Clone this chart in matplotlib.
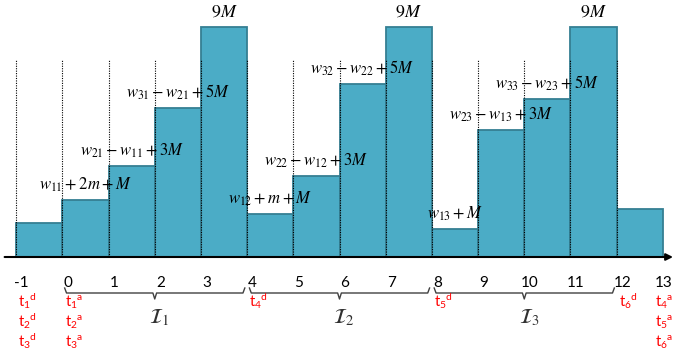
import matplotlib
matplotlib.use("Agg")
import matplotlib.pyplot as plt

# slots -1 .. 12, heights (pixel-ish units)
slots = list(range(-1, 13))
heights = [34, 57, 91, 149, 230, 43, 81, 173, 230, 28, 127, 158, 230, 48]
bar_labels = [
    "",
    r"$w_{11}+2m+M$",
    r"$w_{21}-w_{11}+3M$",
    r"$w_{31}-w_{21}+5M$",
    r"$9M$",
    r"$w_{12}+m+M$",
    r"$w_{22}-w_{12}+3M$",
    r"$w_{32}-w_{22}+5M$",
    r"$9M$",
    r"$w_{13}+M$",
    r"$w_{23}-w_{13}+3M$",
    r"$w_{33}-w_{23}+5M$",
    r"$9M$",
    "",
]
tick_values = list(range(-1, 14))
intervals = [(0, 4), (4, 8), (8, 12)]
interval_names = [r"$\mathcal{I}_1$", r"$\mathcal{I}_2$", r"$\mathcal{I}_3$"]
event_x = [-1, 0, 4, 8, 12, 13]
event_text = [
    [("1", "d"), ("2", "d"), ("3", "d")],
    [("1", "a"), ("2", "a"), ("3", "a")],
    [("4", "d")],
    [("5", "d")],
    [("6", "d")],
    [("4", "a"), ("5", "a"), ("6", "a")],
]

SANS = ["Lato", "DejaVu Sans"]
FILL = "#4BACC6"
EDGE = "#357F93"

fig = plt.figure(figsize=(6.73, 3.6), dpi=100)
ax = fig.add_axes([0, 0, 1, 1])
ax.set_xlim(-1.35, 13.22)
ax.set_ylim(-103, 257)
ax.axis("off")

ax.bar(slots, heights, width=1.0, align="edge", color=FILL,
       edgecolor=EDGE, linewidth=1.3, zorder=2)

# dotted guides at the slot boundaries
for s in slots:
    ax.plot([s, s], [0, 197], color="black", linestyle=(0, (1, 1.2)),
            linewidth=0.8, zorder=3)

# formulas above each bar
for s, h, lab in zip(slots, heights, bar_labels):
    if lab:
        size = 13 if lab == r"$9M$" else 12
        ax.text(s + 0.5, h + 10, lab, ha="center", va="baseline",
                fontsize=size, math_fontfamily="stix", zorder=4)

# time axis with arrow
ax.annotate("", xy=(13.22, 0), xytext=(-1.25, 0),
            arrowprops=dict(arrowstyle="-|>", color="black", lw=1.5,
                            mutation_scale=10, shrinkA=0, shrinkB=0),
            zorder=5)

# tick numbers
for v in tick_values:
    if v == tick_values[-1]:
        ax.text(13.22, -30, str(v), ha="right", va="baseline",
                fontsize=11, family=SANS)
    else:
        ax.text(v + 0.12, -30, str(v), ha="center", va="baseline",
                fontsize=11, family=SANS)

# curly braces for the intervals
y0 = -36
for (a, b), name in zip(intervals, interval_names):
    lo, hi, mid = a + 0.05, b - 0.05, (a + b) / 2
    xs = [lo, lo + 0.04, mid - 0.04, mid, mid + 0.04, hi - 0.04, hi]
    ys = [y0 + 5, y0, y0, y0 - 6, y0, y0, y0 + 5]
    ax.plot(xs, ys, color="#404040", linewidth=1.0, clip_on=False)
    ax.text(mid + 0.1, -61, name, ha="center", va="center", fontsize=15,
            math_fontfamily="stix", color="#303030")

# departure / arrival times in red
for x, texts in zip(event_x, event_text):
    for i, (sub, sup) in enumerate(texts):
        s = r"$\mathregular{t_{%s}{}^{%s}}$" % (sub, sup)
        y = -50 - 20 * i
        if x == event_x[-1]:
            ax.text(13.22, y, s, ha="right", va="baseline",
                    fontsize=10.5, color="red", family=SANS)
        else:
            ax.text(x + 0.05, y, s, ha="left", va="baseline",
                    fontsize=10.5, color="red", family=SANS)

fig.savefig("out.png", dpi=100)
